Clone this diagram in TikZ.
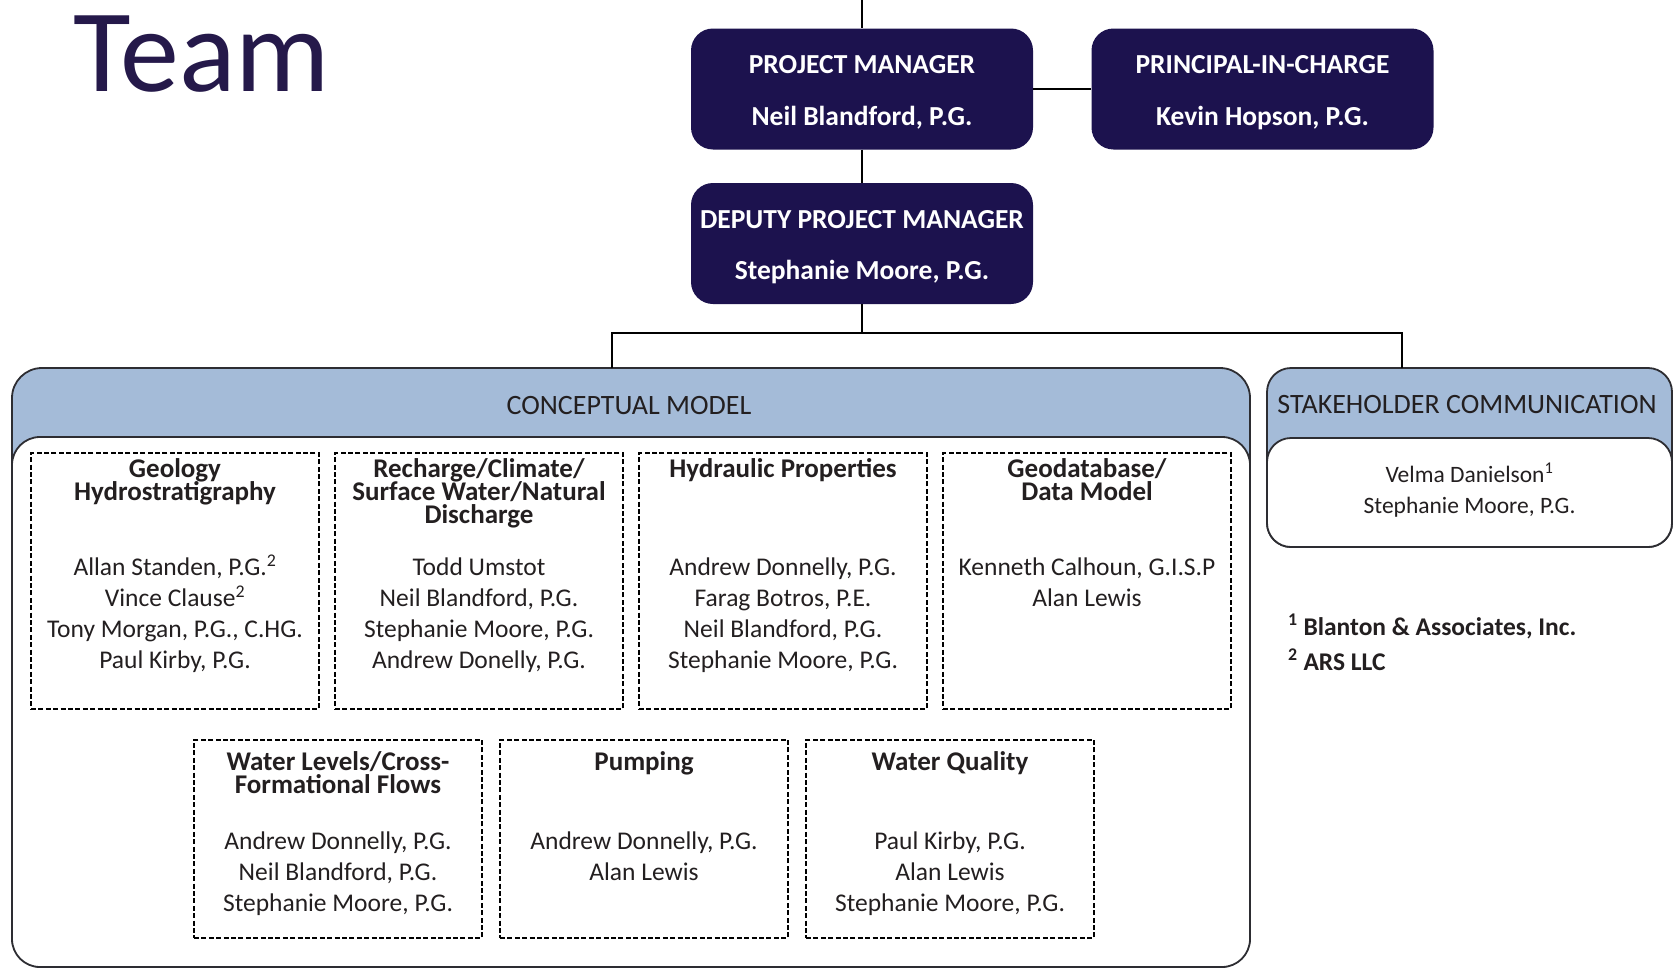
\documentclass[tikz,border=0pt]{standalone}
\usepackage{fontspec}
\setmainfont{Carlito}
\definecolor{navy}{RGB}{28,18,78}
\definecolor{teamc}{RGB}{37,25,74}
\definecolor{hdrblue}{RGB}{164,187,216}
\definecolor{ink}{RGB}{35,31,32}
\definecolor{edge}{RGB}{45,45,50}
\newcommand\fst{\rule{0pt}{24pt}}
\newcommand\setfs[2]{\fontsize{#1}{#2}\selectfont\lineskiplimit=-100pt\relax}
\tikzset{
  mgrbox/.style={fill=navy, draw=none, rounded corners=22pt, inner sep=0pt, minimum width=342pt, minimum height=121pt},
  mgrtxt/.style={inner sep=0pt, anchor=north, align=center, text=white, font=\bfseries\setfs{27.5}{51.5}},
  grpouter/.style={draw=edge, line width=1.8pt, fill=hdrblue, inner sep=0pt},
  grpinner/.style={draw=edge, line width=1.8pt, fill=white, inner sep=0pt},
  hdrtxt/.style={inner sep=0pt, anchor=base, text=ink, font=\setfs{28}{30}},
  dbox/.style={draw=black, line width=2.6pt, dash pattern=on 5pt off 2.4pt, inner sep=0pt, minimum width=288pt},
  ttl/.style={inner sep=0pt, anchor=north, align=center, text=ink, font=\bfseries\setfs{27}{23}},
  names/.style={inner sep=0pt, anchor=north, align=center, text=ink, font=\setfs{25.5}{31}},
  sknames/.style={inner sep=0pt, anchor=north, align=center, text=ink, font=\setfs{23.5}{31}},
  fnote/.style={inner sep=0pt, anchor=base west, text=ink, font=\bfseries\setfs{25.5}{30}},
  link/.style={draw=black, line width=1.6pt}
}
\begin{document}
\begin{tikzpicture}[x=1pt,y=-1pt]
\useasboundingbox[fill=white] (0,0) rectangle (1675,969);

% title
\node[anchor=base west, inner sep=0pt, text=teamc, font=\setfs{118}{120}] (team) at (73,91) {Team};

% managers
\node[mgrbox] (pm) at (862,89) {};
\node[mgrbox] (pic) at (1262.5,89) {};
\node[mgrbox] (dpm) at (862,243.5) {};
\node[mgrtxt] (pmt) at (862,49.5) {\fst PROJECT MANAGER\\Neil Blandford, P.G.};
\node[mgrtxt] (pict) at (1262.5,49.5) {\fst PRINCIPAL-IN-CHARGE\\Kevin Hopson, P.G.};
\node[mgrtxt] (dpmt) at (862,204) {\fst DEPUTY PROJECT MANAGER\\Stephanie Moore, P.G.};

% groups
\node[grpouter, rounded corners=30pt, minimum width=1238pt, minimum height=599pt] (cm) at (631,667.5) {};
\node[grpinner, rounded corners=28pt, minimum width=1238pt, minimum height=530pt] (cmi) at (631,702) {};
\node[grpouter, rounded corners=24pt, minimum width=405pt, minimum height=179pt] (sc) at (1469.5,457.5) {};
\node[grpinner, rounded corners=24pt, minimum width=405pt, minimum height=109pt] (sci) at (1469.5,492.5) {};
\node[hdrtxt] (cmh) at (629,414) {CONCEPTUAL MODEL};
\node[hdrtxt] (sch) at (1467,413) {STAKEHOLDER COMMUNICATION};
\node[sknames] (scn) at (1469.5,458) {\fst Velma Danielson\textsuperscript{1}\\Stephanie Moore, P.G.};

% connectors
\coordinate (topc) at (862,0);
\coordinate (bus) at (862,333);
\coordinate (cmtop) at (612,368);
\coordinate (sctop) at (1402,368);
\draw[link] (topc) -- (pm.north);
\draw[link] (pm.east) -- (pic.west);
\draw[link] (pm.south) -- (dpm.north);
\draw[link] (dpm.south) -- (bus);
\draw[link] (cmtop) |- (bus) -| (sctop);

% top row
\node[dbox, minimum height=256pt] (geo) at (175,581) {};
\node[dbox, minimum height=256pt] (rch) at (479,581) {};
\node[dbox, minimum height=256pt] (hyd) at (783,581) {};
\node[dbox, minimum height=256pt] (gdb) at (1087,581) {};
\node[ttl] (geot) at (175,453) {\fst Geology\\Hydrostratigraphy};
\node[ttl] (rcht) at (479,453) {\fst Recharge/Climate/\\Surface Water/Natural\\Discharge};
\node[ttl] (hydt) at (783,453) {\fst Hydraulic Properties};
\node[ttl] (gdbt) at (1087,453) {\fst Geodatabase/\\Data Model};
\node[names] (geon) at (175,551.5) {\fst Allan Standen, P.G.\textsuperscript{2}\\Vince Clause\textsuperscript{2}\\Tony Morgan, P.G., C.HG.\\Paul Kirby, P.G.};
\node[names] (rchn) at (479,551.5) {\fst Todd Umstot\\Neil Blandford, P.G.\\Stephanie Moore, P.G.\\Andrew Donelly, P.G.};
\node[names] (hydn) at (783,551.5) {\fst Andrew Donnelly, P.G.\\Farag Botros, P.E.\\Neil Blandford, P.G.\\Stephanie Moore, P.G.};
\node[names] (gdbn) at (1087,551.5) {\fst Kenneth Calhoun, G.I.S.P\\Alan Lewis};

% bottom row
\node[dbox, minimum height=198pt] (wl) at (338,839) {};
\node[dbox, minimum height=198pt] (pmp) at (644,839) {};
\node[dbox, minimum height=198pt] (wq) at (950,839) {};
\node[ttl] (wlt) at (338,746) {\fst Water Levels/Cross-\\Formational Flows};
\node[ttl] (pmpt) at (644,746) {\fst Pumping};
\node[ttl] (wqt) at (950,746) {\fst Water Quality};
\node[names] (wln) at (338,825) {\fst Andrew Donnelly, P.G.\\Neil Blandford, P.G.\\Stephanie Moore, P.G.};
\node[names] (pmpn) at (644,825) {\fst Andrew Donnelly, P.G.\\Alan Lewis};
\node[names] (wqn) at (950,825) {\fst Paul Kirby, P.G.\\Alan Lewis\\Stephanie Moore, P.G.};

% footnotes
\node[fnote] (fn1) at (1288,635) {\textsuperscript{1} Blanton \& Associates, Inc.};
\node[fnote] (fn2) at (1288,670) {\textsuperscript{2} ARS LLC};
\end{tikzpicture}
\end{document}
